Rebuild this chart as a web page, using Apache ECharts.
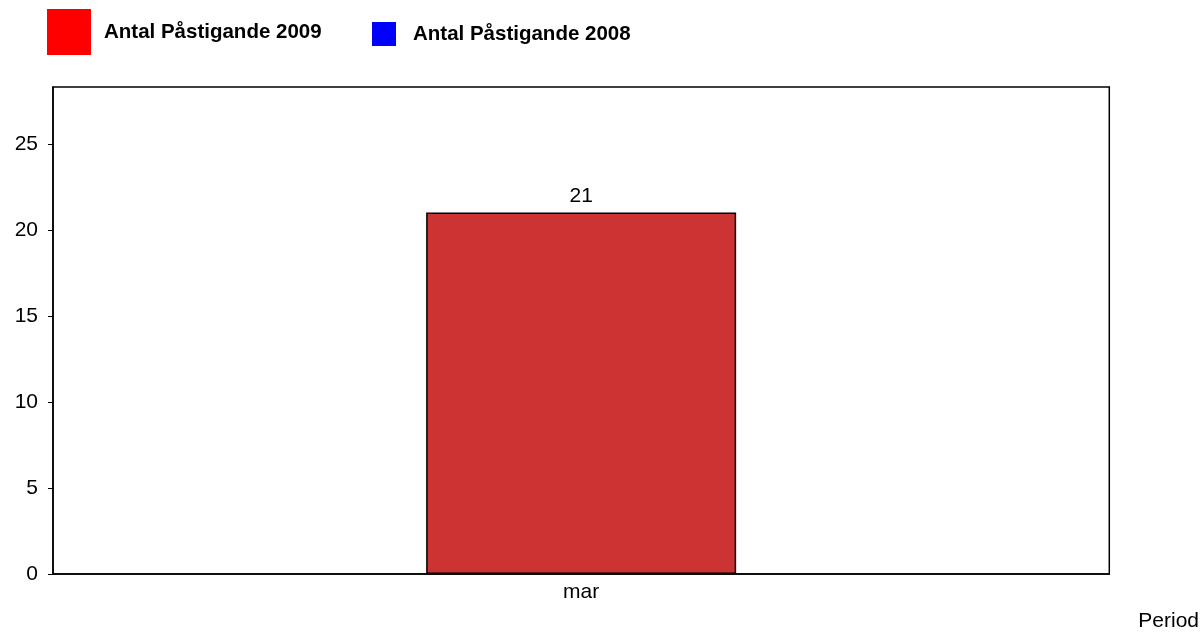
<!DOCTYPE html>
<html>
<head>
<meta charset="utf-8">
<script src="https://cdn.jsdelivr.net/npm/echarts@6/dist/echarts.min.js"></script>
<style>
  html, body { margin: 0; padding: 0; background: #fff; }
  #chart { width: 1202px; height: 633px; }
</style>
</head>
<body>
<div id="chart"></div>
<script>
// data
const categories = ['mar'];
const seriesNames = ['Antal Påstigande 2009', 'Antal Påstigande 2008'];
const values2009 = [21];
const values2008 = [null];
const yTicks = [0, 5, 10, 15, 20, 25];

const font = 'Arial, "Liberation Sans", sans-serif';

const chart = echarts.init(document.getElementById('chart'));

chart.setOption({
  animation: false,
  backgroundColor: '#fff',
  textStyle: { fontFamily: font },
  legend: [
    {
      left: 42, top: 4,
      itemWidth: 44, itemHeight: 46,
      icon: 'rect',
      textStyle: { fontSize: 20.5, fontWeight: 'bold', color: '#000', fontFamily: font, padding: [0, 0, 0, 8] },
      data: [{ name: seriesNames[0], itemStyle: { color: '#ff0000', borderWidth: 0 } }],
      selectedMode: false
    },
    {
      left: 367, top: 17,
      itemWidth: 24, itemHeight: 24,
      icon: 'rect',
      textStyle: { fontSize: 20.5, fontWeight: 'bold', color: '#000', fontFamily: font, padding: [0, 0, 0, 12] },
      data: [{ name: seriesNames[1], itemStyle: { color: '#0000ff', borderWidth: 0 } }],
      selectedMode: false
    }
  ],
  grid: {
    left: 53, right: 92, top: 87, bottom: 59,
    show: true, borderColor: '#000', borderWidth: 1.5, backgroundColor: 'transparent'
  },
  xAxis: {
    type: 'category',
    data: categories,
    name: 'Period',
    nameLocation: 'end',
    nameGap: 29,
    nameTextStyle: { fontSize: 21, color: '#000', verticalAlign: 'top', padding: [37, 0, 0, 0] },
    axisLine: { lineStyle: { color: '#000', width: 1.5 } },
    axisTick: { show: false },
    axisLabel: { fontSize: 21, color: '#000', margin: 8 },
    splitLine: { show: false }
  },
  yAxis: {
    type: 'value',
    min: 0,
    max: 28.3,
    interval: 5,
    axisLine: { show: true, lineStyle: { color: '#000', width: 1.5 } },
    axisTick: { show: true, length: 5, lineStyle: { color: '#000', width: 1 }, customValues: yTicks },
    axisLabel: { fontSize: 21, color: '#000', margin: 15, customValues: yTicks },
    splitLine: { show: false }
  },
  series: [
    {
      name: seriesNames[0],
      type: 'bar',
      data: values2009,
      barWidth: 310,
      barGap: '-100%',
      itemStyle: { color: '#cc3333', borderColor: '#000', borderWidth: 1.5 },
      label: { show: true, position: 'top', distance: 6, fontSize: 21, color: '#000' }
    },
    {
      name: seriesNames[1],
      type: 'bar',
      data: values2008,
      barWidth: 310,
      itemStyle: { color: '#0000ff', borderColor: '#000', borderWidth: 1.5 }
    }
  ]
});
</script>
</body>
</html>
